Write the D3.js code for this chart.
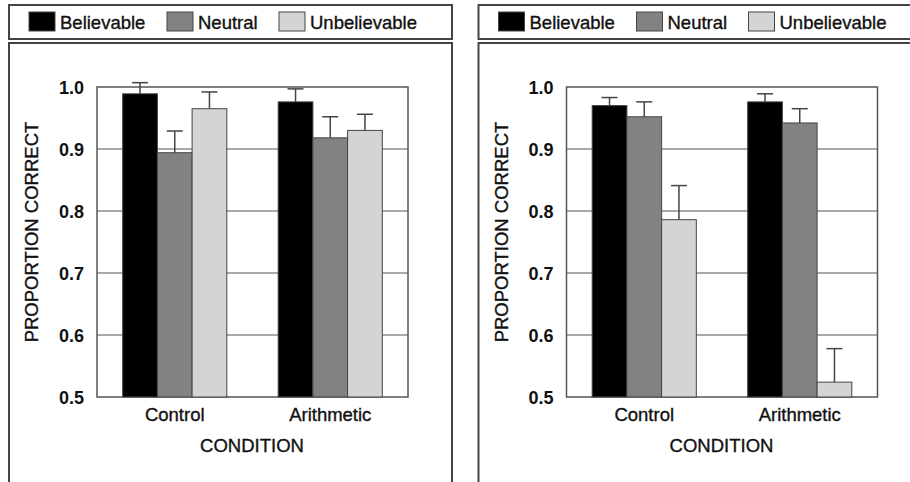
<!DOCTYPE html>
<html>
<head>
<meta charset="utf-8">
<script src="https://cdn.jsdelivr.net/npm/d3@7"></script>
<style>
  body { margin: 0; background: #fff; }
  text { font-family: "Liberation Sans", Arial, sans-serif; fill: #111; }
  .lbl { stroke: #111; stroke-width: 0.35px; }
</style>
</head>
<body>
<div id="canva"></div>
<script>
const series = ["Believable", "Neutral", "Unbelievable"];
const categories = ["Control", "Arithmetic"];
const yTicks = [0.5, 0.6, 0.7, 0.8, 0.9, 1.0];

// left panel: rows = condition, columns = series
const leftMeans = [[0.989, 0.894, 0.965], [0.976, 0.918, 0.930]];
const leftErrors = [[0.018, 0.035, 0.027], [0.021, 0.034, 0.026]];

// right panel
const rightMeans = [[0.970, 0.952, 0.786], [0.976, 0.942, 0.524]];
const rightErrors = [[0.013, 0.024, 0.055], [0.013, 0.023, 0.054]];

const colors = ["#000000", "#828282", "#d4d4d4"];

const width = 910;
const height = 482;

const svg = d3.select("#canva").append("svg")
    .attr("width", width)
    .attr("height", height);

function drawPanel(offset, means, errors) {
    const g = svg.append("g").attr("transform", `translate(${offset}, 0)`);

    // outer boxes
    g.append("rect")
        .attr("x", 9).attr("y", 5)
        .attr("width", 443).attr("height", 34)
        .attr("fill", "none").attr("stroke", "#444").attr("stroke-width", 2);
    g.append("rect")
        .attr("x", 9).attr("y", 43)
        .attr("width", 443).attr("height", 460)
        .attr("fill", "none").attr("stroke", "#444").attr("stroke-width", 2);

    // legend
    const legendX = [29, 167, 279];
    const legend = g.selectAll(".legend")
        .data(series)
        .join("g")
        .attr("transform", (d, i) => `translate(${legendX[i]}, 12)`);
    legend.append("rect")
        .attr("width", 26).attr("height", 19)
        .attr("fill", (d, i) => colors[i])
        .attr("stroke", "#444").attr("stroke-width", 1);
    legend.append("text")
        .attr("class", "lbl")
        .attr("x", 31).attr("y", 17)
        .attr("font-size", "18.5px")
        .text(d => d);

    const x0 = d3.scaleBand()
        .domain(categories)
        .range([97, 408]);

    const x1 = d3.scaleBand()
        .domain(series)
        .range([0, x0.bandwidth()])
        .paddingOuter(0.74);

    const y = d3.scaleLinear()
        .domain([0.5, 1.0])
        .range([397, 87]);

    // grid
    g.append("g")
        .selectAll("line")
        .data(yTicks.slice(1, -1))
        .join("line")
        .attr("x1", 97).attr("x2", 408)
        .attr("y1", d => y(d)).attr("y2", d => y(d))
        .attr("stroke", "#555").attr("stroke-width", 1.2);

    // frame
    g.append("rect")
        .attr("x", 97).attr("y", y(1.0))
        .attr("width", 311).attr("height", y(0.5) - y(1.0))
        .attr("fill", "none").attr("stroke", "#555").attr("stroke-width", 1.5);

    const rows = categories.map((c, ci) => series.map((s, si) => ({
        cat: c, s: s, i: si, v: means[ci][si], e: errors[ci][si]
    }))).flat();

    // error bars (behind bars so only the upper whisker shows)
    const eb = g.append("g").attr("stroke", "#444").attr("stroke-width", 1.5);
    eb.selectAll(".stem")
        .data(rows)
        .join("line")
        .attr("x1", d => x0(d.cat) + x1(d.s) + x1.bandwidth() / 2)
        .attr("x2", d => x0(d.cat) + x1(d.s) + x1.bandwidth() / 2)
        .attr("y1", d => y(d.v))
        .attr("y2", d => y(d.v + d.e));
    eb.selectAll(".cap")
        .data(rows)
        .join("line")
        .attr("x1", d => x0(d.cat) + x1(d.s) + x1.bandwidth() / 2 - 8)
        .attr("x2", d => x0(d.cat) + x1(d.s) + x1.bandwidth() / 2 + 8)
        .attr("y1", d => y(d.v + d.e))
        .attr("y2", d => y(d.v + d.e));

    g.append("g")
        .selectAll("rect")
        .data(rows)
        .join("rect")
        .attr("x", d => x0(d.cat) + x1(d.s))
        .attr("y", d => y(d.v))
        .attr("width", x1.bandwidth())
        .attr("height", d => y(0.5) - y(d.v))
        .attr("fill", d => colors[d.i])
        .attr("stroke", "#444").attr("stroke-width", 1);

    // y tick labels
    g.append("g")
        .selectAll("text")
        .data(yTicks)
        .join("text")
        .attr("x", 84)
        .attr("y", d => y(d) + 6.5)
        .attr("text-anchor", "end")
        .attr("font-size", "18px")
        .attr("font-weight", "bold")
        .text(d => d.toFixed(1));

    // x tick labels
    g.append("g")
        .selectAll("text")
        .data(categories)
        .join("text")
        .attr("class", "lbl")
        .attr("x", d => x0(d) + x0.bandwidth() / 2)
        .attr("y", 421)
        .attr("text-anchor", "middle")
        .attr("font-size", "18.5px")
        .text(d => d);

    g.append("text")
        .attr("class", "lbl")
        .attr("x", 252)
        .attr("y", 452)
        .attr("text-anchor", "middle")
        .attr("font-size", "18.5px")
        .text("CONDITION");

    g.append("text")
        .attr("class", "lbl")
        .attr("transform", "rotate(-90)")
        .attr("x", -232)
        .attr("y", 38)
        .attr("text-anchor", "middle")
        .attr("font-size", "18.5px")
        .text("PROPORTION CORRECT");
}

drawPanel(0, leftMeans, leftErrors);
drawPanel(469.5, rightMeans, rightErrors);
</script>
</body>
</html>
